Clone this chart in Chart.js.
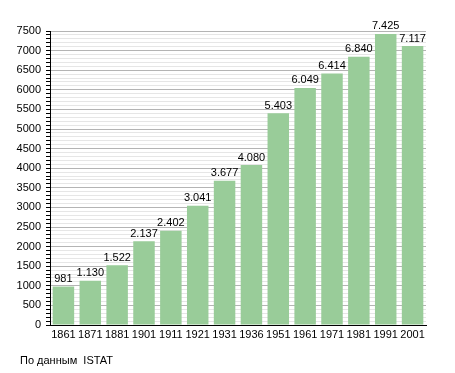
<!DOCTYPE html>
<html>
<head>
<meta charset="utf-8">
<script src="https://cdn.jsdelivr.net/npm/chart.js@4"></script>
<style>
  body { margin: 0; background: #fff; }
  #wrap { position: relative; width: 455px; height: 373px; }
  #note {
    position: absolute; left: 20px; top: 354px;
    font: 11px "Liberation Sans", Arial, sans-serif; color: #000;
  }
</style>
</head>
<body>
<div id="wrap">
  <canvas id="myChart" width="455" height="373"></canvas>
  <div id="note">По данным&nbsp; ISTAT</div>
</div>
<script>
// anni del censimento e popolazione
const years = ["1861", "1871", "1881", "1901", "1911", "1921", "1931", "1936", "1951", "1961", "1971", "1981", "1991", "2001"];
const population = [981, 1130, 1522, 2137, 2402, 3041, 3677, 4080, 5403, 6049, 6414, 6840, 7425, 7117];
const yMax = 7500;
const yStep = 100;
const majorStep = 500;

const fontFamily = '"Liberation Sans", Arial, sans-serif';

// formato con punto delle migliaia
function fmt(v) {
  return v.toString().replace(/\B(?=(\d{3})+(?!\d))/g, ".");
}

// etichette sopra le barre
const barLabels = {
  id: "barLabels",
  afterDatasetsDraw(chart) {
    const c = chart.ctx;
    c.save();
    c.font = "11px " + fontFamily;
    c.fillStyle = "#000";
    c.textAlign = "center";
    c.textBaseline = "bottom";
    chart.getDatasetMeta(0).data.forEach((bar, i) => {
      c.fillText(fmt(population[i]), bar.x, bar.y - 2);
    });
    c.restore();
  },
};

const ctx = document.getElementById("myChart");

new Chart(ctx, {
  type: "bar",
  data: {
    labels: years,
    datasets: [
      {
        data: population,
        backgroundColor: "#99cc99",
        barPercentage: 0.8,
        categoryPercentage: 1,
      },
    ],
  },
  options: {
    responsive: false,
    animation: false,
    layout: { padding: { left: 0, right: 29, top: 31, bottom: 28 } },
    plugins: {
      legend: { display: false },
      tooltip: { enabled: false },
    },
    scales: {
      x: {
        grid: { display: false, drawTicks: false },
        border: { color: "#000", width: 1 },
        ticks: {
          color: "#000",
          font: { family: fontFamily, size: 11 },
          padding: 3,
          maxRotation: 0,
          autoSkip: false,
        },
        afterFit(scale) {
          scale.height = 20;
        },
      },
      y: {
        min: 0,
        max: yMax,
        border: { color: "#000", width: 1 },
        grid: {
          color: (c) => (c.tick.value % majorStep === 0 ? "#b4b4b4" : "#e6e6e6"),
          tickColor: "#000",
          tickLength: 4,
        },
        ticks: {
          stepSize: yStep,
          autoSkip: false,
          color: "#000",
          font: { family: fontFamily, size: 11 },
          padding: 5,
          callback: (v) => (v % majorStep === 0 ? v : ""),
        },
        afterFit(scale) {
          scale.width = 50;
        },
      },
    },
  },
  plugins: [barLabels],
});
</script>
</body>
</html>
